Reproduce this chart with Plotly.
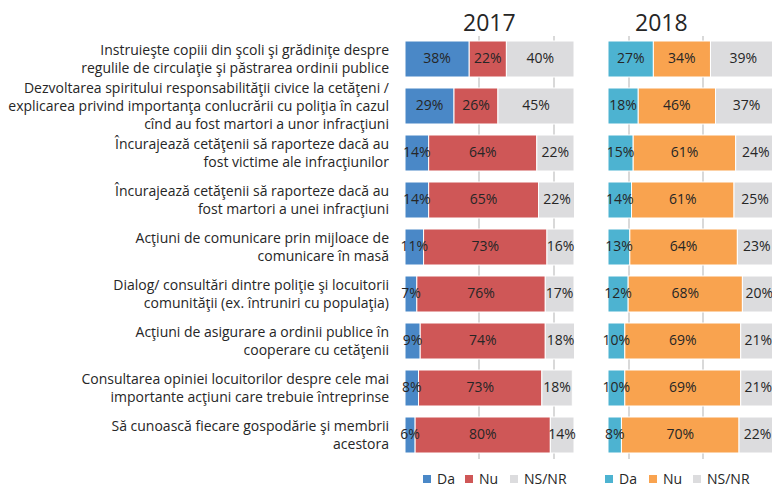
import plotly.graph_objects as go

categories = [
    "Instruieşte copiii din şcoli şi grădiniţe despre<br>regulile de circulaţie şi păstrarea ordinii publice",
    "Dezvoltarea spiritului responsabilităţii civice la cetăţeni /<br>explicarea privind importanţa conlucrării cu poliţia în cazul<br>cînd au fost martori a unor infracţiuni",
    "Încurajează cetăţenii să raporteze dacă au<br>fost victime ale infracţiunilor",
    "Încurajează cetăţenii să raporteze dacă au<br>fost martori a unei infracţiuni",
    "Acţiuni de comunicare prin mijloace de<br>comunicare în masă",
    "Dialog/ consultări dintre poliţie şi locuitorii<br>comunităţii (ex. întruniri cu populaţia)",
    "Acţiuni de asigurare a ordinii publice în<br>cooperare cu cetăţenii",
    "Consultarea opiniei locuitorilor despre cele mai<br>importante acţiuni care trebuie întreprinse",
    "Să cunoască fiecare gospodărie şi membrii<br>acestora",
]

series_names = ["Da", "Nu", "NS/NR"]

da_2017 = [38, 29, 14, 14, 11, 7, 9, 8, 6]
nu_2017 = [22, 26, 64, 65, 73, 76, 74, 73, 80]
ns_2017 = [40, 45, 22, 22, 16, 17, 18, 18, 14]

da_2018 = [27, 18, 15, 14, 13, 12, 10, 10, 8]
nu_2018 = [34, 46, 61, 61, 64, 68, 69, 69, 70]
ns_2018 = [39, 37, 24, 25, 23, 20, 21, 21, 22]

colors_2017 = ["#4A88C7", "#CF5757", "#DCDCDE"]
colors_2018 = ["#4DB3D1", "#F9A34F", "#DCDCDE"]

FONT = "Open Sans"
TEXT_COLOR = "#262626"
W, H = 772, 488

fig = go.Figure()


def add_panel(values, colors, xa):
    left = [0] * len(categories)
    for name, vals, col in zip(series_names, values, colors):
        fig.add_trace(go.Bar(
            y=categories, x=[v / 100 for v in vals], base=[b / 100 for b in left],
            orientation="h", name=name,
            marker=dict(color=col, line=dict(color="white", width=1)),
            xaxis=xa, yaxis="y", showlegend=False, hoverinfo="skip",
        ))
        mids = [(b + v / 2) / 100 for b, v in zip(left, vals)]
        fig.add_trace(go.Scatter(
            y=categories, x=mids, mode="text", text=[f"{v}%" for v in vals],
            textfont=dict(family=FONT, size=14, color=TEXT_COLOR),
            xaxis=xa, yaxis="y", showlegend=False, cliponaxis=False, hoverinfo="skip",
        ))
        left = [b + v for b, v in zip(left, vals)]


add_panel([da_2017, nu_2017, ns_2017], colors_2017, "x")
add_panel([da_2018, nu_2018, ns_2018], colors_2018, "x2")

# hand-made legends (swatch + label) under each panel
shapes, annotations = [], []
legend_x = {"2017": [423, 465, 510], "2018": [605, 649, 693]}
for year, colors in (("2017", colors_2017), ("2018", colors_2018)):
    for x0, name, col in zip(legend_x[year], series_names, colors):
        shapes.append(dict(type="rect", xref="paper", yref="paper",
                           x0=x0 / W, x1=(x0 + 8) / W, y0=1 - 483 / H, y1=1 - 475 / H,
                           fillcolor=col, line=dict(width=0)))
        annotations.append(dict(text=name, x=(x0 + 12) / W, y=1 - 478.5 / H,
                                xref="paper", yref="paper", xanchor="left", yanchor="middle",
                                showarrow=False, font=dict(family=FONT, size=14, color=TEXT_COLOR)))

annotations += [
    dict(text="2017", x=0.5, xref="x domain", y=1 - 22 / H, yref="paper", yanchor="middle",
         showarrow=False, font=dict(family=FONT, size=23, color=TEXT_COLOR)),
    dict(text="2018", x=690 / W, xref="paper", y=1 - 22 / H, yref="paper", yanchor="middle",
         showarrow=False, font=dict(family=FONT, size=23, color=TEXT_COLOR)),
]

y_top, y_bot = 35.5, 458.5
grid = dict(showgrid=True, gridcolor="#D9D9D9", gridwidth=1.5, showticklabels=False,
            zeroline=False, showline=False, ticks="", automargin=False)

fig.update_layout(
    width=W, height=H,
    margin=dict(l=0, r=0, t=0, b=0),
    paper_bgcolor="white", plot_bgcolor="white",
    barmode="overlay", bargap=0.234, showlegend=False,
    font=dict(family=FONT, size=14, color=TEXT_COLOR),
    xaxis=dict(domain=[405 / W, 574 / W], range=[0, 1], tickvals=[0, 0.44, 0.88], **grid),
    xaxis2=dict(domain=[608 / W, 1.0], range=[0, (W - 608) / 168], tickvals=[0.125, 0.565], **grid),
    yaxis=dict(domain=[1 - y_bot / H, 1 - y_top / H], autorange="reversed",
               showgrid=False, zeroline=False, ticks="", ticklabelstandoff=15, automargin=False,
               tickfont=dict(family=FONT, size=14, color=TEXT_COLOR)),
    shapes=shapes,
    annotations=annotations,
)

# drop the page's default body margin so the figure sits at the window's corner
fig.write_html("out.html", config={"displayModeBar": False},
               post_script="document.body.style.margin='0';")
